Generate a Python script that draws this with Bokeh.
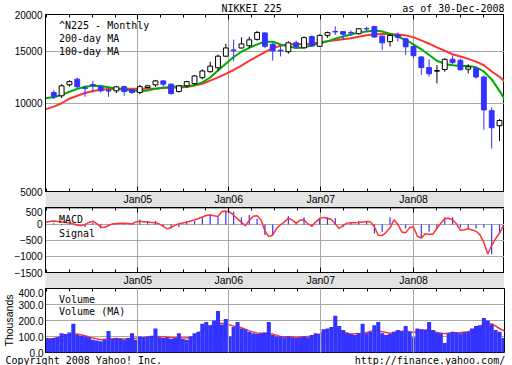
import numpy as np
from bokeh.plotting import figure
from bokeh.layouts import column
from bokeh.models import (Range1d, FixedTicker, NumeralTickFormatter, Legend, LegendItem,
                          Title, LinearAxis, ColumnDataSource)
from bokeh.embed import file_html
from bokeh.resources import INLINE

# ---------------- data ----------------
year_labels = ["Jan05", "Jan06", "Jan07", "Jan08"]
year_pos = [10.74, 22.37, 34.14, 46.02]          # year boundaries in candle-period units

c_open = [10860, 10580, 11530, 12050, 11260, 11550, 11350, 11030, 11000, 11370,
          11090, 10860, 11290, 11530, 11890, 11590, 10940, 11440, 11640, 12200,
          12780, 13180, 14430, 15150, 15390, 15650, 16460, 17310, 15840, 15120,
          14940, 16020, 15410, 16830, 15590, 16980, 17520, 17490, 17380, 17210,
          17930, 18210, 16880, 16170, 17050, 16530, 15570, 14340, 13200, 12830,
          13000, 14080, 13970, 13030, 13130, 12260, 9420, 8370]
c_high = [11060, 11590, 11950, 12200, 11440, 11890, 11530, 11230, 11440, 11440,
          11150, 11530, 11530, 11980, 11950, 11640, 11530, 11890, 12450, 13020,
          13810, 14620, 15880, 16430, 16720, 16790, 17610, 17420, 16020, 15650,
          16210, 16300, 16850, 16980, 17110, 17490, 18210, 17580, 17650, 18000,
          18180, 18240, 16980, 17140, 17380, 16660, 15780, 14460, 14080, 13460,
          14210, 14540, 14130, 13540, 13270, 12400, 9665, 8820]
c_low = [10315, 10400, 11350, 11230, 10500, 10860, 10860, 10500, 10810, 10580,
         10720, 10720, 11230, 11350, 11290, 10670, 10860, 11290, 11530, 12050,
         12680, 12850, 14320, 13880, 15320, 15410, 16300, 15390, 13940, 14400,
         14710, 15390, 15350, 15530, 15530, 16660, 17050, 16400, 16920, 17090,
         17490, 16680, 15120, 15560, 16170, 14580, 14210, 12450, 12290, 11660,
         12780, 13540, 12900, 12600, 12090, 8110, 7000, 7430]
c_close = [10500, 11440, 11820, 11350, 11210, 11500, 11000, 10980, 11350, 10940,
           10860, 11370, 11440, 11890, 11590, 10770, 11440, 11820, 12360, 12850,
           13350, 14430, 15390, 15080, 15880, 16400, 17380, 15590, 15060, 15050,
           16020, 15530, 16690, 15620, 16980, 17350, 17450, 17140, 17310, 17890,
           17860, 16760, 16020, 16980, 16720, 15530, 14490, 13200, 12570, 12890,
           14080, 13720, 12970, 13270, 12260, 9470, 8240, 8720]

# moving averages, one value per period from -1 to 58
ma200 = [9530, 9720, 9980, 10340, 10580, 10810, 10990, 11090, 11150, 11170,
         11170, 11170, 11170, 11170, 11170, 11250, 11260, 11290, 11330, 11460,
         11630, 11920, 12230, 12570, 12950, 13400, 13920, 14400, 14890, 15370,
         15660, 15800, 15850, 15880, 15950, 16070, 16210, 16360, 16490, 16610,
         16810, 16990, 17110, 17180, 17180, 17110, 16980, 16720, 16330, 15910,
         15470, 15060, 14650, 14390, 14130, 13830, 13440, 12800, 12280, 11600]
ma100 = [10400, 10460, 10660, 10920, 11170, 11350, 11450, 11430, 11320, 11190,
         11100, 11020, 10970, 11020, 11180, 11280, 11360, 11410, 11410, 11500,
         11750, 12210, 12890, 13600, 14340, 14940, 15400, 15830, 16160, 16160,
         15830, 15570, 15390, 15450, 15710, 15970, 16210, 16560, 16830, 17100,
         17350, 17510, 17650, 17510, 17200, 16820, 16380, 15830, 15230, 14560,
         13920, 13580, 13430, 13350, 13350, 13230, 12800, 12030, 11000, 9950]

# MACD, one stem per period
macd = [40, 20, 30, -30, -76, 60, -127, -40, 30, 40,
        20, 158, 106, 106, -60, -127, -76, 106, 106, 227,
        327, 227, 430, 400, 227, 297, 176, -327, -327, -24,
        258, 76, 227, -76, 197, 227, 197, -76, 76, 106,
        76, -279, -227, 227, -24, -127, -24, -409, -227, -127,
        227, 227, -106, -127, -127, -106, -933, -300]
# signal line, sampled every half period from -1
signal = [76, 91, 106, 91, 76, 61, 45, 15, -15, -36,
          0, 64, 100, 27, -76, -94, -33, 15, 27, 39,
          39, 27, 15, 79, 100, 88, 76, 64, 52, 12,
          -61, -139, -94, -30, 24, 48, 70, 106, 145, 188,
          233, 282, 294, 270, 248, 403, 415, 394, 288, 176,
          67, -39, 127, 258, 273, 136, -203, -379, -327, -121,
          -9, 82, 200, 133, 36, 133, 148, 18, -45, 73,
          191, 221, 197, 158, 15, -124, -36, 42, 55, 55,
          61, 79, 94, 82, -70, -336, -348, -245, -106, 148,
          6, -233, -261, -97, -79, -367, -427, -291, -306, -303,
          -118, 36, 185, 194, 148, 18, -182, -167, -133, -170,
          -212, -324, -561, -921, -658, -448, -267, -45]

# volume (thousands), sampled every half period from -1
volume = [90, 85, 90, 95, 120, 115, 125, 180, 110, 105,
          100, 95, 80, 75, 70, 80, 135, 85, 90, 85,
          80, 90, 120, 80, 100, 95, 100, 105, 150, 95,
          90, 95, 85, 90, 120, 85, 80, 100, 120, 130,
          180, 190, 170, 200, 260, 175, 210, 100, 160, 190,
          150, 145, 130, 120, 115, 120, 125, 190, 110, 100,
          100, 95, 100, 95, 90, 95, 100, 95, 110, 120,
          115, 145, 150, 160, 230, 165, 140, 120, 115, 110,
          120, 180, 120, 130, 170, 190, 120, 110, 115, 130,
          140, 135, 165, 130, 95, 150, 145, 140, 190, 140,
          125, 120, 60, 120, 130, 125, 120, 125, 130, 150,
          165, 170, 215, 200, 175, 140, 130, 90]
volume_ma = [85, 88, 100, 110, 115, 105, 90, 80, 85, 88,
             85, 88, 90, 95, 100, 98, 92, 92, 90, 100,
             140, 165, 185, 180, 165, 155, 135, 122, 120, 115,
             100, 98, 95, 98, 102, 115, 140, 155, 130, 115,
             118, 125, 140, 130, 120, 130, 135, 125, 140, 140,
             125, 118, 122, 125, 130, 150, 175, 180, 150, 125]

# ---------------- styling ----------------
BLUE = "#3333ff"
RED = "#ff3333"
GREEN = "#00aa00"
GRID = "#a8a8a8"
BAND = "#e3e3e3"
MONO = "DejaVu Sans Mono"
SANS = "Liberation Sans"
NB = "\u00a0"

k = np.arange(len(c_open))
ma_k = np.arange(-1, len(ma200) - 1)
half_k = -1 + 0.5 * np.arange(len(signal))

xr = Range1d(-1.06, 57.64)


def quarter_ticks(years, lo, hi):
    out = []
    for a, b in zip(years[:-1], years[1:]):
        out += [a + (b - a) * q / 4 for q in range(1, 4)]
    s = (years[1] - years[0]) / 4
    t = years[0] - s
    while t > lo:
        out.append(t)
        t -= s
    s = (years[-1] - years[-2]) / 4
    t = years[-1] + s
    while t < hi:
        out.append(t)
        t += s
    return sorted(out)


xticker = FixedTicker(ticks=year_pos, minor_ticks=quarter_ticks(year_pos, xr.start, xr.end))


def make_fig(frame_h, y_range, y_type="linear"):
    p = figure(frame_width=459, frame_height=frame_h, x_range=xr, y_range=y_range,
               y_axis_type=y_type, toolbar_location=None, output_backend="svg",
               min_border_left=40, min_border_right=5, min_border_top=0,
               min_border_bottom=0)
    p.outline_line_color = "black"
    p.outline_line_width = 1
    p.background_fill_color = "white"
    p.border_fill_color = "white"
    p.xgrid.ticker = xticker
    p.grid.grid_line_color = GRID
    p.grid.grid_line_width = 1
    ya = p.left[0]
    ya.major_tick_in = 0
    ya.major_tick_out = 0
    ya.minor_tick_in = 0
    ya.minor_tick_out = 0
    ya.axis_line_color = "black"
    ya.major_label_text_font = SANS
    ya.major_label_text_font_size = "10px"
    ya.major_label_text_color = "black"
    ya.major_label_standoff = 3
    top_ax = LinearAxis(ticker=xticker, major_label_text_font_size="0px",
                        major_label_overrides={pos: "" for pos in year_pos},
                        major_tick_in=5, major_tick_out=0, minor_tick_in=3,
                        minor_tick_out=0, major_label_standoff=0, axis_line_color="black")
    p.add_layout(top_ax, "above")
    return p


def band_axis(p):
    ax = p.below[0]
    ax.ticker = xticker
    ax.major_tick_in = 5
    ax.major_tick_out = 0
    ax.minor_tick_in = 3
    ax.minor_tick_out = 0
    ax.axis_line_color = "black"
    ax.major_label_overrides = {pos: lab for pos, lab in zip(year_pos, year_labels)}
    ax.major_label_text_font = SANS
    ax.major_label_text_font_size = "10.5px"
    ax.major_label_text_color = "black"
    ax.major_label_standoff = 1
    try:
        ax.background_fill_color = BAND
    except AttributeError:
        pass


def add_legend(p, entries, row_h):
    items = []
    for lab, col in entries:
        r = p.vbar(x=[], top=[], width=0.5, fill_color=col, line_color="#222222")
        items.append(LegendItem(label=lab, renderers=[r]))
    lg = Legend(items=items, location="top_left")
    lg.label_text_font = MONO
    lg.label_text_font_size = "10px"
    lg.label_text_color = "black"
    lg.glyph_width = 7
    lg.glyph_height = 7
    lg.label_standoff = 2
    lg.label_height = row_h
    lg.spacing = 0
    lg.padding = 1
    lg.margin = 5
    lg.border_line_color = None
    lg.background_fill_alpha = 0
    p.add_layout(lg)


# ---------------- main price panel ----------------
pmain = make_fig(177, Range1d(5000, 20000), "log")
pmain.left[0].ticker = FixedTicker(ticks=[5000, 10000, 15000, 20000])
pmain.ygrid.ticker = FixedTicker(ticks=[5000, 10000, 15000, 20000])
pmain.left[0].formatter = NumeralTickFormatter(format="0")
band_axis(pmain)

pmain.title.text = "NIKKEI 225" + NB * 20 + "as of 30-Dec-2008"
pmain.title.align = "right"
pmain.title.text_font = MONO
pmain.title.text_font_size = "10px"
pmain.title.text_font_style = "normal"
pmain.title.text_color = "black"
pmain.title.standoff = 1

pmain.line(ma_k, ma200, line_color=RED, line_width=2)
pmain.line(ma_k, ma100, line_color=GREEN, line_width=2)

up = np.array(c_close) >= np.array(c_open)
src = ColumnDataSource(dict(
    x=k, h=c_high, l=c_low,
    top=list(np.maximum(c_open, c_close)), bot=list(np.minimum(c_open, c_close)),
    fill=["white" if u else BLUE for u in up],
    line=["black" if u else BLUE for u in up]))
pmain.segment(x0="x", y0="l", x1="x", y1="h", line_color="line", line_width=1, source=src)
pmain.vbar(x="x", top="top", bottom="bot", width=0.62, fill_color="fill",
           line_color="line", line_width=1, source=src)

add_legend(pmain, [("^N225 - Monthly", BLUE), ("200-day MA", RED), ("100-day MA", GREEN)], 13)

# ---------------- MACD panel ----------------
pmacd = make_fig(65, Range1d(-1500, 530))
macd_ticks = FixedTicker(ticks=[-1500, -1000, -500, 0, 500])
pmacd.left[0].ticker = macd_ticks
pmacd.ygrid.ticker = macd_ticks
band_axis(pmacd)
pmacd.segment(x0=k, y0=np.zeros(len(k)), x1=k, y1=macd, line_color=BLUE, line_width=1.2)
pmacd.line(half_k, signal, line_color=RED, line_width=1.5)
add_legend(pmacd, [("MACD", BLUE), ("Signal", RED)], 14)

# ---------------- volume panel ----------------
pvol = make_fig(64, Range1d(0, 400))
vol_ticks = FixedTicker(ticks=[0, 100, 200, 300, 400])
ya = pvol.left[0]
ya.ticker = vol_ticks
pvol.ygrid.ticker = vol_ticks
ya.formatter = NumeralTickFormatter(format="0.0")
ya.major_label_standoff = 2
ya.axis_label = "Thousands"
ya.axis_label_text_font = SANS
ya.axis_label_text_font_size = "10.5px"
ya.axis_label_text_font_style = "normal"
ya.axis_label_text_color = "black"
ya.axis_label_standoff = 0
pvol.below[0].visible = False
pvol.xgrid.level = "overlay"
pvol.line(ma_k, volume_ma, line_color=RED, line_width=1.5)
pvol.vbar(x=half_k, top=volume, width=0.52, fill_color=BLUE, line_color=None)
add_legend(pvol, [("Volume", BLUE), ("Volume (MA)", RED)], 12)

foot = Title(text="Copyright 2008 Yahoo! Inc." + NB * 32 + "http://finance.yahoo.com/",
             align="left", offset=-40, text_font=MONO, text_font_size="10px",
             text_font_style="normal", text_color="black", standoff=1)
pvol.add_layout(foot, "below")

layout = column(pmain, pmacd, pvol)
open("out.html", "w").write(file_html(layout, INLINE))
